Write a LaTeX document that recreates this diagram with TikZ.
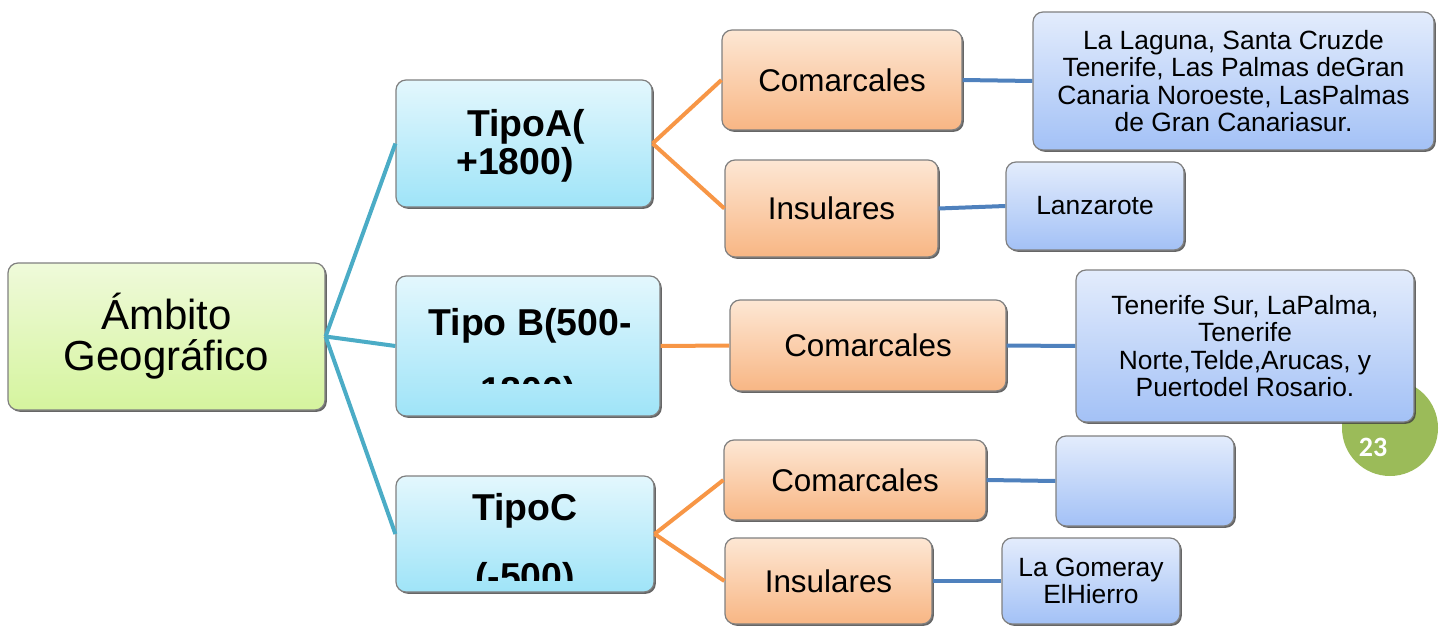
\documentclass[tikz,border=0pt]{standalone}
\usepackage{fontspec}
\setmainfont{Liberation Sans}
\newfontfamily\calibri{Carlito}
\usetikzlibrary{shadows}
\definecolor{rootTop}{HTML}{EFFADA}
\definecolor{rootBot}{HTML}{D5F49E}
\definecolor{cyTop}{HTML}{E3F7FD}
\definecolor{cyBot}{HTML}{9FE4F8}
\definecolor{orTop}{HTML}{FDE7D4}
\definecolor{orBot}{HTML}{F8B684}
\definecolor{blTop}{HTML}{E3ECFC}
\definecolor{blBot}{HTML}{A3C1F6}
\definecolor{tealC}{HTML}{4BACC6}
\definecolor{orangeC}{HTML}{F79646}
\definecolor{blueC}{HTML}{4F81BD}
\definecolor{pageC}{HTML}{9BBB59}
\tikzset{
  box/.style={rounded corners=5pt, draw=black!50, line width=0.6pt, inner sep=0pt, align=center,
    drop shadow={shadow xshift=0.9pt, shadow yshift=-0.9pt, fill=black!75, opacity=0.8}},
  rootbox/.style={box, top color=rootTop, bottom color=rootBot, font=\fontsize{21}{20.5}\selectfont},
  tipobox/.style={box, top color=cyTop, bottom color=cyBot},
  tipotext/.style={anchor=base, inner sep=0pt, font=\fontsize{18.7}{20}\selectfont\bfseries},
  catbox/.style={box, top color=orTop, bottom color=orBot, font=\fontsize{15.7}{17}\selectfont},
  leafbox/.style={box, top color=blTop, bottom color=blBot, font=\fontsize{13.2}{13.8}\selectfont},
  tealline/.style={draw=tealC, line width=2pt},
  orline/.style={draw=orangeC, line width=2pt},
  blline/.style={draw=blueC, line width=2pt},
}
\begin{document}
\begin{tikzpicture}[x=0.5pt, y=-0.5pt]
\useasboundingbox (0,0) rectangle (1440,626);
% page number circle
\node[circle, fill=pageC, minimum size=48pt, inner sep=0pt] (pg) at (1390,428) {};
\node[text=white, font=\calibri\bfseries\fontsize{14}{16}\selectfont] (pgn) at (1373,447) {23};
% root
\node[rootbox, minimum width=158.5pt, minimum height=73.5pt] (root) at (166.5,336.5) {Ámbito\\Geográfico};
% tipo boxes
\node[tipobox, minimum width=128pt, minimum height=63.5pt] (ta) at (524,143.5) {};
\node[tipobox, minimum width=132pt, minimum height=70pt] (tb) at (528,346) {};
\node[tipobox, minimum width=129pt, minimum height=58pt] (tc) at (525,534) {};
\node[tipotext] (ta1) at (526,137) {TipoA(};
\node[tipotext] (ta2) at (515,175) {+1800)};
\begin{scope}
  \clip (396,276) rectangle (660,383);
  \node[tipotext] (tb1) at (530,335) {Tipo B(500-};
  \node[tipotext] (tb2) at (528,403) {1800)};
\end{scope}
\begin{scope}
  \clip (396,476) rectangle (654,580);
  \node[tipotext] (tc1) at (525,520) {TipoC};
  \node[tipotext] (tc2) at (525,589) {(-500)};
\end{scope}
% category boxes
\node[catbox, minimum width=120pt, minimum height=50pt] (ca) at (842,80) {Comarcales};
\node[catbox, minimum width=106.5pt, minimum height=48.5pt] (ia) at (831.5,208.5) {Insulares};
\node[catbox, minimum width=138pt, minimum height=45.5pt] (cb) at (868,345.5) {Comarcales};
\node[catbox, minimum width=131pt, minimum height=40pt] (cc) at (855,480) {Comarcales};
\node[catbox, minimum width=103.5pt, minimum height=43pt] (ic) at (828.5,581) {Insulares};
% leaf boxes
\node[leafbox, minimum width=200.5pt, minimum height=69pt] (l1) at (1233.5,81)
  {La Laguna, Santa Cruzde\\Tenerife, Las Palmas deGran\\Canaria Noroeste, LasPalmas\\de Gran Canariasur.};
\node[leafbox, minimum width=89pt, minimum height=44pt] (l2) at (1095,206) {Lanzarote};
\node[leafbox, minimum width=169pt, minimum height=76pt] (l3) at (1245,346)
  {Tenerife Sur, LaPalma,\\Tenerife\\Norte,Telde,Arucas, y\\Puertodel Rosario.};
\node[leafbox, minimum width=89pt, minimum height=45pt] (l4) at (1145,481) {};
\node[leafbox, minimum width=89pt, minimum height=43pt] (l5) at (1091,581) {La Gomeray\\ElHierro};
% connectors
\draw[tealline] (root.east) -- (ta.west);
\draw[tealline] (root.east) -- (tb.west);
\draw[tealline] (root.east) -- (tc.west);
\draw[orline] (ta.east) -- (ca.west);
\draw[orline] (ta.east) -- (ia.west);
\draw[orline] (tb.east) -- (cb.west);
\draw[orline] (tc.east) -- (cc.west);
\draw[orline] (tc.east) -- (ic.west);
\draw[blline] (ca.east) -- (l1.west);
\draw[blline] (ia.east) -- (l2.west);
\draw[blline] (cb.east) -- (l3.west);
\draw[blline] (cc.east) -- (l4.west);
\draw[blline] (ic.east) -- (l5.west);
\end{tikzpicture}
\end{document}
